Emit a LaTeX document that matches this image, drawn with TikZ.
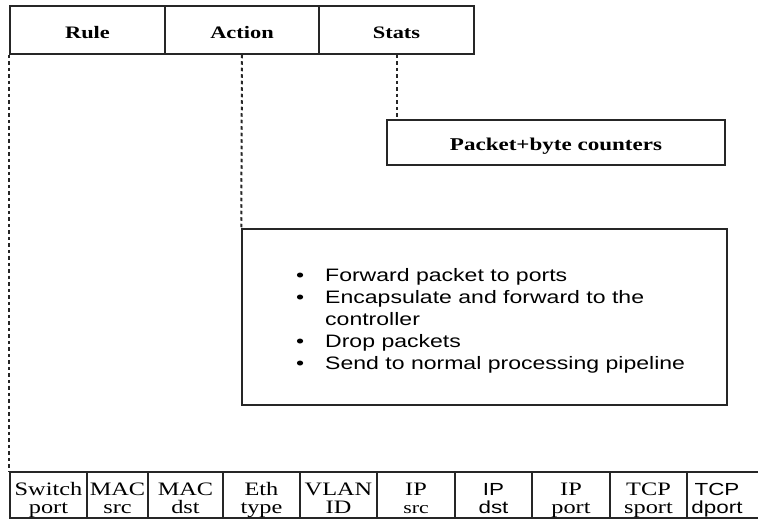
\documentclass[tikz,border=0pt]{standalone}
\usepackage{fontspec}
\setmainfont{Liberation Serif}[FakeStretch=1.28]
\newfontfamily\sansstr{Liberation Sans}[FakeStretch=1.28]
\newcommand\twoline[2]{\begin{tabular}[t]{@{}c@{}}#1\\#2\end{tabular}}
\begin{document}
\begin{tikzpicture}[x=1pt,y=-1pt,
  box/.style={draw=black!85,line width=1.5pt,rectangle,inner sep=0pt},
  hdr/.style={box,minimum height=48pt,font=\fontsize{17.5}{20}\selectfont\bfseries,text height=18pt,text depth=0pt},
  fld/.style={box,minimum height=46pt,font=\fontsize{19}{18}\selectfont,text height=21pt,text depth=21pt},
  fldsans/.style={fld,font=\fontsize{17.5}{18}\selectfont\sansstr},
  link/.style={draw=black!85,line width=2pt,dash pattern=on 3.5pt off 3pt}]
\useasboundingbox (0,0) rectangle (758,519);
\clip (0,0) rectangle (758,519);
% top table
\node[hdr,minimum width=155pt] (rule) at (87.5,30) {Rule};
\node[hdr,minimum width=154pt] (action) at (242,30) {Action};
\node[hdr,minimum width=155pt] (stats) at (396.5,30) {Stats};
% packet counters
\node[box,minimum width=338pt,minimum height=45pt,font=\fontsize{18}{20}\selectfont\bfseries,text height=15pt,text depth=0pt] (pkt) at (556,142.5) {Packet+byte counters};
% action box
\node[box,minimum width=485pt,minimum height=176pt] (actbox) at (484.5,317) {};
\node[anchor=base west,inner sep=0pt,font=\fontsize{18}{22}\selectfont\sansstr] (actlist) at (296,281)
 {\begin{tabular}[t]{@{}p{29pt}@{}l@{}}
  \textbullet & Forward packet to ports\\
  \textbullet & Encapsulate and forward to the\\
   & controller\\
  \textbullet & Drop packets\\
  \textbullet & Send to normal processing pipeline
  \end{tabular}};
% bottom table
\node[fld,minimum width=77pt] (c1) at (48.5,495) {\twoline{Switch}{port}};
\node[fld,minimum width=61pt] (c2) at (117.5,495) {\twoline{MAC}{src}};
\node[fld,minimum width=75pt] (c3) at (185.5,495) {\twoline{MAC}{dst}};
\node[fld,minimum width=77pt] (c4) at (261.5,495) {\twoline{Eth}{type}};
\node[fld,minimum width=77pt] (c5) at (338.5,495) {\twoline{VLAN}{ID}};
\node[fld,minimum width=78pt] (c6) at (416,495) {\twoline{IP}{\fontsize{17}{18}\selectfont src}};
\node[fldsans,minimum width=77pt] (c7) at (493.5,495) {\twoline{IP}{dst}};
\node[fld,minimum width=78pt] (c8) at (571,495) {\twoline{IP}{port}};
\node[fld,minimum width=77pt] (c9) at (648.5,495) {\twoline{TCP}{sport}};
\node[fldsans,minimum width=93pt] (c10) at (733.5,495) {\makebox[60pt][c]{\twoline{TCP}{dport}}\kern33pt};
% connectors
\draw[link] (rule.south west) -- (c1.north west);
\draw[link] (action.south) -- (actbox.north west);
\draw[link] (stats.south) -- (stats.south |- pkt.north);
\end{tikzpicture}
\end{document}
